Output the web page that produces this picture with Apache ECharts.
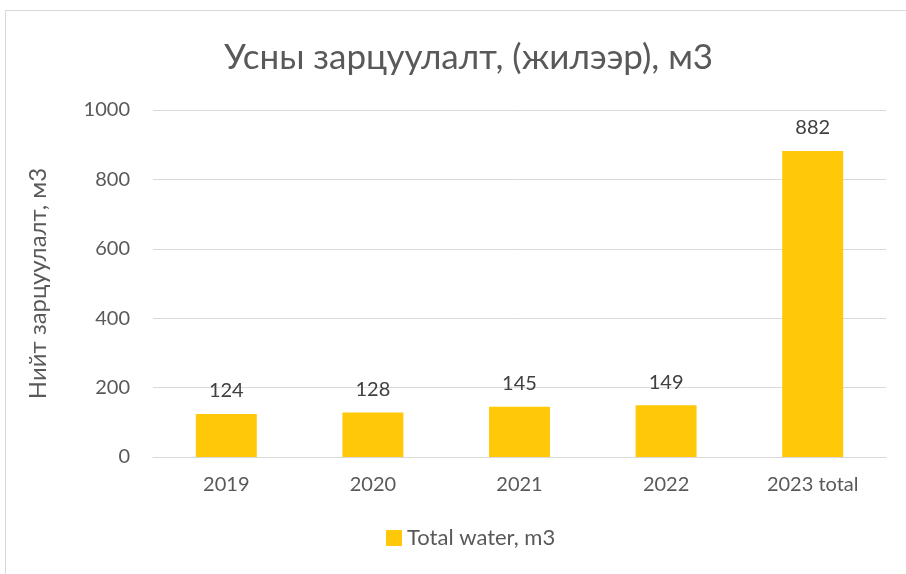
<!DOCTYPE html>
<html>
<head>
<meta charset="utf-8">
<script src="https://cdn.jsdelivr.net/npm/echarts@6/dist/echarts.min.js"></script>
<style>
  html, body { margin: 0; padding: 0; background: #fff; }
  #frame { position: absolute; left: 5px; top: 10px; width: 920px; height: 600px; border: 1px solid #d9d9d9; }
  #chart { position: absolute; left: 0; top: 0; width: 906px; height: 574px; }
</style>
</head>
<body>
<div id="frame"></div>
<div id="chart"></div>
<script>
var categories = ['2019', '2020', '2021', '2022', '2023 total'];
var waterValues = [124, 128, 145, 149, 882];
var seriesName = 'Total water, m3';
var titleText = 'Усны зарцуулалт, (жилээр), м3';
var yAxisName = 'Нийт зарцуулалт, м3';

var font = 'Lato, "Open Sans", sans-serif';
var chart = echarts.init(document.getElementById('chart'));

var option = {
  animation: false,
  title: {
    text: titleText,
    left: 219,
    top: 35,
    textStyle: { fontFamily: font, fontSize: 35, fontWeight: 'normal', color: '#595959' }
  },
  legend: {
    bottom: 20,
    left: 381,
    itemWidth: 16,
    itemHeight: 16,
    itemGap: 4,
    icon: 'rect',
    data: [seriesName],
    textStyle: { fontFamily: font, fontSize: 22, color: '#595959' }
  },
  grid: { left: 153, right: 20, top: 110, bottom: 117 },
  xAxis: {
    type: 'category',
    data: categories,
    axisLine: { lineStyle: { color: '#d9d9d9', width: 1 } },
    axisTick: { show: false },
    axisLabel: { fontFamily: font, fontSize: 20, color: '#595959', margin: 18 }
  },
  yAxis: {
    type: 'value',
    min: 0,
    max: 1000,
    interval: 200,
    name: yAxisName,
    nameLocation: 'middle',
    nameGap: 103,
    nameTextStyle: { fontFamily: font, fontSize: 24, color: '#595959' },
    axisLine: { show: false },
    axisTick: { show: false },
    splitLine: { lineStyle: { color: '#d9d9d9', width: 1 } },
    axisLabel: {
      fontFamily: font, fontSize: 20, color: '#595959', margin: 23,
      formatter: function (v) { return String(v); }
    }
  },
  series: [
    {
      name: seriesName,
      type: 'bar',
      data: waterValues,
      barWidth: 61,
      itemStyle: { color: '#FFC90A' },
      label: {
        show: true,
        position: 'top',
        distance: 13,
        fontFamily: font,
        fontSize: 20,
        color: '#404040'
      }
    }
  ]
};

chart.setOption(option);
</script>
</body>
</html>
